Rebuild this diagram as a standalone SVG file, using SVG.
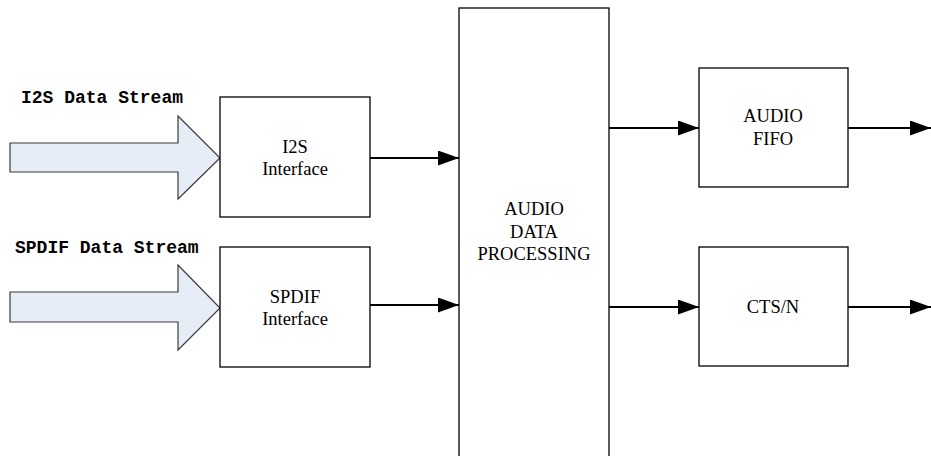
<svg xmlns="http://www.w3.org/2000/svg" width="931" height="456" viewBox="0 0 931 456">
  <style>
    .box { fill: #ffffff; stroke: #000000; stroke-width: 1.3; }
    .big { fill: #E7EDF7; stroke: #3a3a3a; stroke-width: 1.2; }
    .lbl { font-family: "Liberation Serif", "Times New Roman", serif; font-size: 18.5px; fill: #000; text-anchor: middle; }
    .mono { font-family: "Liberation Mono", "Courier New", monospace; font-size: 18px; font-weight: bold; fill: #000; }
    .conn { stroke: #000; stroke-width: 2; fill: none; }
  </style>
  <defs>
    <marker id="ah" markerUnits="userSpaceOnUse" viewBox="0 0 21 15" refX="21" refY="7.5" markerWidth="21" markerHeight="15" orient="auto">
      <path d="M0,0 L21,7.5 L0,15 Z" fill="#000"/>
    </marker>
  </defs>
  <rect width="931" height="456" fill="#ffffff"/>

  <g id="i2s-stream">
    <polygon class="big" points="10,143 178,143 178,116 220,158 178,199 178,172 10,172"/>
    <text class="mono" x="21" y="103">I2S Data Stream</text>
  </g>
  <g id="spdif-stream">
    <polygon class="big" points="10,292 178,292 178,265 220,308 178,350 178,322 10,322"/>
    <text class="mono" x="15" y="253">SPDIF Data Stream</text>
  </g>

  <g id="i2s-interface">
    <rect class="box" x="220" y="97" width="150" height="120"/>
    <text class="lbl" x="295" y="153">I2S</text>
    <text class="lbl" x="295" y="175">Interface</text>
  </g>
  <g id="spdif-interface">
    <rect class="box" x="220" y="247" width="150" height="120"/>
    <text class="lbl" x="295" y="303">SPDIF</text>
    <text class="lbl" x="295" y="325">Interface</text>
  </g>
  <g id="audio-data-processing">
    <rect class="box" x="459" y="8" width="150" height="460"/>
    <text class="lbl" x="534" y="215">AUDIO</text>
    <text class="lbl" x="534" y="238">DATA</text>
    <text class="lbl" x="534" y="260">PROCESSING</text>
  </g>
  <g id="audio-fifo">
    <rect class="box" x="699" y="68" width="149" height="119"/>
    <text class="lbl" x="773" y="122">AUDIO</text>
    <text class="lbl" x="773" y="145">FIFO</text>
  </g>
  <g id="cts-n">
    <rect class="box" x="699" y="247" width="149" height="119"/>
    <text class="lbl" x="773" y="313">CTS/N</text>
  </g>

  <g id="connectors">
    <path class="conn" d="M370,158 H459" marker-end="url(#ah)"/>
    <path class="conn" d="M370,305 H459" marker-end="url(#ah)"/>
    <path class="conn" d="M609,128 H699" marker-end="url(#ah)"/>
    <path class="conn" d="M609,307 H699" marker-end="url(#ah)"/>
    <path class="conn" d="M848,128 H931" marker-end="url(#ah)"/>
    <path class="conn" d="M848,307 H931" marker-end="url(#ah)"/>
  </g>
</svg>
